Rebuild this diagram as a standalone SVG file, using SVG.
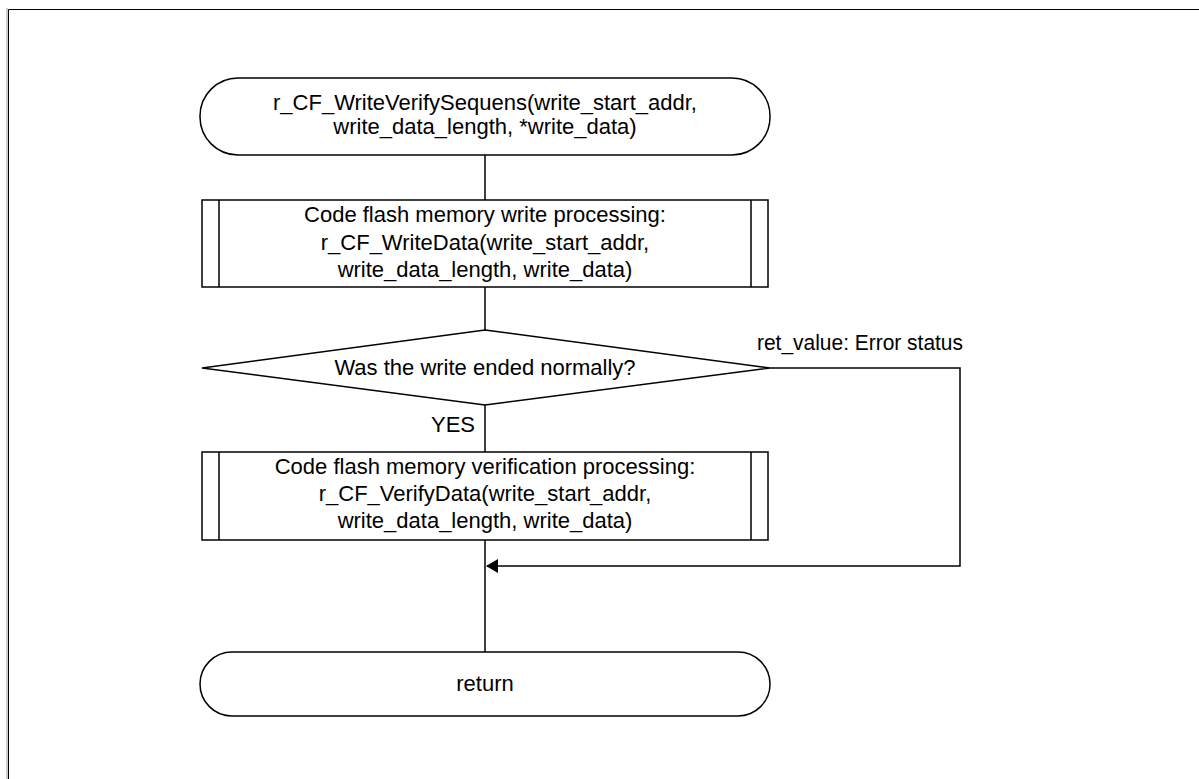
<svg xmlns="http://www.w3.org/2000/svg" width="1199" height="779" viewBox="0 0 1199 779">
<style>
.s{fill:#fff;stroke:#000;stroke-width:1.5}
.l{fill:none;stroke:#000;stroke-width:1.5}
text{font-family:"Liberation Sans",Arial,sans-serif;font-size:22px;fill:#000}
.c{text-anchor:middle}
</style>
<defs>
<marker id="arr" markerWidth="12" markerHeight="14" refX="11" refY="7" orient="auto" markerUnits="userSpaceOnUse">
<path d="M0,0 L12,7 L0,14 z" fill="#000"/>
</marker>
</defs>
<rect width="1199" height="779" fill="#fff"/>
<path d="M8.5,779 V9.5 H1199" fill="none" stroke="#000" stroke-width="1"/>
<path d="M7,779 V8" fill="none" stroke="#999" stroke-width="1"/>
<g id="connectors">
<path class="l" d="M485,155 V200"/>
<path class="l" d="M485,287 V330"/>
<path class="l" d="M485,405 V452"/>
<path class="l" d="M485,540 V652"/>
<path class="l" d="M770,368 H960 V566 H487" marker-end="url(#arr)"/>
<text x="757" y="350" textLength="206" lengthAdjust="spacingAndGlyphs">ret_value: Error status</text>
<text x="431" y="432">YES</text>
</g>
<g id="start">
<rect class="s" x="200" y="78" width="570" height="77" rx="38" ry="38"/>
<text class="c" x="485" y="110">r_CF_WriteVerifySequens(write_start_addr,</text>
<text class="c" x="485" y="134">write_data_length, *write_data)</text>
</g>
<g id="write">
<rect class="s" x="202" y="200" width="566" height="87"/>
<path class="l" d="M219,200 V287 M751,200 V287"/>
<text class="c" x="485" y="222">Code flash memory write processing:</text>
<text class="c" x="485" y="250">r_CF_WriteData(write_start_addr,</text>
<text class="c" x="485" y="277">write_data_length, write_data)</text>
</g>
<g id="decision">
<polygon class="s" points="485,330 770,368 485,405 202,368"/>
<text class="c" x="485" y="375">Was the write ended normally?</text>
</g>
<g id="verify">
<rect class="s" x="202" y="452" width="566" height="88"/>
<path class="l" d="M219,452 V540 M751,452 V540"/>
<text class="c" x="485" y="474">Code flash memory verification processing:</text>
<text class="c" x="485" y="501">r_CF_VerifyData(write_start_addr,</text>
<text class="c" x="485" y="528">write_data_length, write_data)</text>
</g>
<g id="return">
<rect class="s" x="200" y="652" width="570" height="64" rx="32" ry="32"/>
<text class="c" x="485" y="691">return</text>
</g>
</svg>
